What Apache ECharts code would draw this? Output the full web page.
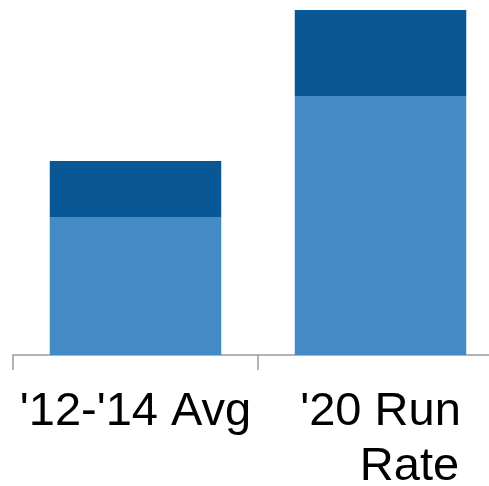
<!DOCTYPE html>
<html>
<head>
<meta charset="utf-8">
<script src="https://cdn.jsdelivr.net/npm/echarts@6/dist/echarts.min.js"></script>
<style>
  html, body { margin: 0; padding: 0; background: #fff; }
  #chartDiv { width: 489px; height: 486px; }
</style>
</head>
<body>
<div id="chartDiv"></div>
<script>
var categories = ["'12-'14 Avg", "'20 Run Rate"];
var baseValues = [138, 259];
var topValues = [56, 86];

var myChart = echarts.init(document.getElementById('chartDiv'));

myChart.setOption({
    animation: false,
    grid: {left: 13, top: 10, width: 490, height: 345, outerBoundsMode: 'none', containLabel: false},
    xAxis: {
        type: 'category',
        data: categories,
        axisLine: {lineStyle: {color: '#999', width: 1.5}},
        axisTick: {show: true, length: 15, lineStyle: {color: '#999', width: 1.5}},
        axisLabel: {
            margin: 30,
            interval: 0,
            color: '#000',
            fontFamily: 'Liberation Sans',
            fontSize: 47,
            lineHeight: 55,
            formatter: function (value, i) {
                if (i == 1) {
                    return "{a|'20 Run}\n{b|Rate}";
                }
                return value;
            },
            rich: {
                a: {fontSize: 47, lineHeight: 55, fontFamily: 'Liberation Sans', color: '#000'},
                b: {fontSize: 47, lineHeight: 55, fontFamily: 'Liberation Sans', color: '#000', padding: [0, 0, 0, 58]}
            }
        }
    },
    yAxis: {
        type: 'value',
        min: 0,
        max: 345,
        show: false
    },
    series: [{
        type: 'bar',
        stack: 'total',
        data: baseValues,
        barWidth: '70%',
        itemStyle: {color: '#448AC5'}
    }, {
        type: 'bar',
        stack: 'total',
        data: topValues,
        barWidth: '70%',
        itemStyle: {color: '#0A5796'}
    }]
});
</script>
</body>
</html>
